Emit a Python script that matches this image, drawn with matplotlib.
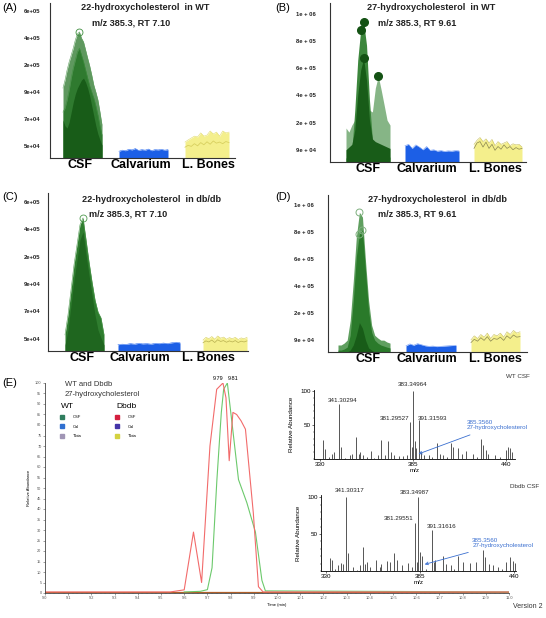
import matplotlib
matplotlib.use('Agg')  # no UI backend

import numpy as np
import matplotlib.pyplot as plt
from matplotlib.lines import Line2D

W, H = 546, 618
plt.rcParams['font.family'] = ['Liberation Sans', 'DejaVu Sans']

# ---------------- data : panels A-D ----------------
groups = ["CSF", "Calvarium", "L. Bones"]
ticks_22 = ["5e+04", "7e+04", "9e+04", "2e+05", "4e+05", "6e+05"]
ticks_27 = ["9e + 04", "2e + 05", "4e + 05", "6e + 05", "8e + 05", "1e + 06"]

# heights in tick units (lowest tick label = 1)
a_csf_outer = [3.14, 3.44, 3.81, 4.11, 4.36, 4.62, 4.92, 5.14, 5.22, 4.99,
               4.85, 4.55, 4.25, 3.96, 3.62, 3.25, 2.99, 2.70, 2.25, 1.77]
a_csf_mid = [2.25, 2.40, 2.70, 3.07, 3.51, 3.88, 4.18, 4.48, 4.62, 4.36,
             4.11, 3.81, 3.51, 3.22, 2.99, 2.77, 2.48, 2.14, 1.74, 1.40]
a_csf_dark = [1.96, 1.74, 1.66, 1.88, 2.25, 2.62, 2.92, 3.14, 3.29, 3.44,
              3.51, 3.36, 3.14, 2.85, 2.48, 2.11, 1.74, 1.44, 1.22, 1.03]
a_calv = [0.80, 0.84, 0.82, 0.87, 0.85, 0.90, 0.83, 0.86, 0.84, 0.88,
          0.82, 0.86, 0.85, 0.87, 0.84, 0.86]
a_lb_top = [1.14, 1.22, 1.29, 1.36, 1.33, 1.48, 1.36, 1.40, 1.55, 1.44,
            1.51, 1.36, 1.55, 1.48, 1.51]
a_lb_line = [0.95, 1.02, 0.98, 1.08, 1.00, 1.12, 1.04, 1.15, 1.06, 1.18,
             1.10, 1.14, 1.08, 1.16, 1.12]

b_csf_light = [1.80, 1.65, 1.91, 2.09, 2.46, 2.83, 2.83, 2.83, 2.46, 2.39,
               3.27, 3.71, 3.20, 2.65, 2.09, 1.91]
b_csf_mid = [0.70, 0.70, 0.99, 2.46, 4.30, 5.40, 5.70, 4.85, 2.83, 1.36,
             0.99, 0.92, 0.80, 0.77, 0.73, 0.73]
b_csf_dark = [1.00, 1.10, 1.20, 1.73, 3.01, 3.93, 4.37, 3.56, 2.09, 1.40,
              1.30, 1.25, 1.20, 1.15, 1.10, 1.05]
b_calv = [1.15, 1.20, 1.05, 1.18, 1.10, 1.00, 1.12, 0.98, 1.00, 0.95,
          0.97, 0.94, 0.96, 0.95, 0.97, 0.96]
b_lb_top = [1.20, 1.35, 1.45, 1.30, 1.40, 1.25, 1.38, 1.15, 1.30, 1.20,
            1.25, 1.30, 1.15, 1.22, 1.18, 1.20, 1.10]
b_lb_line = [1.05, 1.25, 1.30, 1.10, 1.28, 1.05, 1.20, 0.98, 1.12, 1.02,
             1.18, 1.05, 1.12, 1.00, 1.08, 1.02, 1.05]

c_csf_outer = [1.14, 1.87, 2.78, 3.70, 4.43, 5.17, 5.42, 4.62, 3.81, 3.08,
               2.42, 1.98, 1.76, 1.14]
c_csf_dark = [0.77, 1.32, 2.23, 3.15, 3.88, 4.62, 4.91, 4.07, 3.33, 2.60,
              1.87, 1.32, 1.03, 0.77]
c_calv = [0.78, 0.80, 0.79, 0.82, 0.80, 0.83, 0.81, 0.82, 0.80, 0.83,
          0.82, 0.84, 0.82, 0.85, 0.87, 0.85]
c_lb_top = [0.95, 1.05, 1.00, 1.08, 0.98, 1.10, 1.02, 1.06, 0.98, 1.04,
            1.00, 1.05, 0.97, 1.03, 1.00, 1.05]
c_lb_line = [0.85, 0.92, 0.88, 0.95, 0.86, 0.96, 0.90, 0.93, 0.87, 0.92,
             0.88, 0.93, 0.86, 0.91, 0.88, 0.92]

d_csf_outer = [0.81, 0.81, 0.88, 0.99, 1.72, 3.18, 4.82, 5.73, 5.55, 3.91,
               2.46, 1.54, 1.17, 1.07, 0.99, 0.99, 0.92, 0.88]
d_csf_mid = [0.62, 0.62, 0.66, 0.73, 1.17, 2.45, 4.09, 4.93, 5.08, 3.55,
             2.08, 1.28, 0.99, 0.88, 0.81, 0.77, 0.73, 0.70]
d_csf_dark = [0.55, 0.55, 0.55, 0.55, 0.62, 0.81, 1.17, 1.64, 1.43, 0.99,
              0.70, 0.62, 0.55, 0.55, 0.55, 0.55, 0.55, 0.55]
d_calv = [0.78, 0.85, 0.80, 0.86, 0.82, 0.78, 0.76, 0.77, 0.75, 0.76,
          0.77, 0.78, 0.79, 0.80]
d_lb_top = [1.00, 1.15, 1.05, 1.20, 1.10, 1.25, 1.05, 1.20, 1.15, 1.25,
            1.10, 1.30, 1.20, 1.35, 1.25, 1.30]
d_lb_line = [0.90, 1.02, 0.95, 1.08, 0.98, 1.12, 0.95, 1.05, 1.02, 1.10,
             0.98, 1.15, 1.05, 1.18, 1.10, 1.12]

# ---------------- data : panel E chromatogram ----------------
rt_dbdb = [9.0, 9.54, 9.60, 9.64, 9.675, 9.711, 9.74, 9.767, 9.78, 9.794,
           9.81, 9.826, 9.845, 9.864, 9.898, 9.92, 9.94, 11.0]
int_dbdb = [0.5, 0.5, 1.5, 29, 5, 70, 97, 100, 93, 63,
            86, 85, 82, 78, 38, 3, 0.5, 0.5]
rt_wt = [9.60, 9.67, 9.70, 9.72, 9.741, 9.76, 9.77, 9.786, 9.806, 9.834,
         9.87, 9.907, 9.935, 9.95, 11.0]
int_wt = [0.5, 0.8, 1.6, 12, 54, 86, 97, 100, 81, 54,
          43, 29, 6, 1, 0.5]
rt_flat = [9.0, 11.0]
int_flat = [0.5, 0.5]

# ---------------- data : mass spectra ----------------
mz_wt = [332.0, 332.9, 335.5, 337.5, 338.6, 341.4, 342.8, 345.0, 348.1, 349.3,
         351.6, 353.2, 354.0, 355.5, 358.1, 360.1, 362.0, 364.4, 366.3, 368.3,
         370.3, 371.8, 373.6, 376.8, 379.1, 381.5, 383.0, 384.2, 385.0, 386.2,
         387.0, 388.3, 389.5, 391.3, 394.4, 396.5, 399.4, 400.7, 402.7, 405.0,
         407.6, 408.6, 411.7, 413.9, 416.4, 420.4, 422.5, 424.9, 426.3, 427.8,
         429.2, 433.1, 436.0, 439.6, 441.0, 442.0, 443.2]
abund_wt = [28, 14, 3, 7, 10, 81, 18, 2, 6, 8,
            33, 8, 11, 6, 3, 12, 2, 6, 28, 6,
            26, 11, 6, 4, 4, 6, 55, 18, 100, 27,
            16, 57, 11, 6, 6, 3, 24, 8, 6, 3,
            23, 18, 16, 8, 12, 8, 3, 29, 21, 13,
            8, 6, 3, 13, 18, 16, 11]
mz_db = [332.7, 333.9, 335.5, 337.2, 338.7, 340.0, 341.7, 342.8, 345.9, 348.0,
         350.2, 351.7, 352.9, 354.1, 355.6, 359.5, 361.5, 362.4, 365.9, 367.3,
         369.6, 371.7, 374.7, 378.0, 380.5, 382.0, 383.2, 384.0, 385.0, 385.9,
         388.5, 391.7, 392.9, 394.0, 398.3, 400.3, 402.8, 405.0, 407.1, 410.0,
         413.9, 417.8, 421.7, 423.0, 424.9, 427.5, 430.6, 433.0, 435.2, 437.6,
         439.1, 440.3]
abund_db = [17, 15, 3, 8, 11, 9, 100, 24, 6, 2,
            8, 33, 10, 12, 5, 15, 5, 10, 14, 12,
            25, 15, 8, 11, 6, 65, 12, 100, 26, 20,
            3, 56, 12, 15, 21, 10, 8, 3, 20, 12,
            11, 12, 28, 19, 10, 8, 5, 3, 12, 19,
            13, 11]

# ---------------- helpers ----------------
fig = plt.figure(figsize=(W / 100, H / 100), dpi=100)


def px_axes(left, top, right, bottom):
    return fig.add_axes([left / W, 1 - bottom / H, (right - left) / W, (bottom - top) / H])


def ftext(x, y, s, **kw):
    fig.text(x / W, 1 - y / H, s, **kw)


BASE = 0.55
GREEN_L, GREEN_M, GREEN_D = '#4d8d4d', '#2a772a', '#185c18'
BLUE = '#1c5fe6'
YELLOW = '#f4ef86'


def band(ax, center, width, heights, color, alpha=1.0, edge=None, lw=0.4):
    x = np.linspace(center - width / 2, center + width / 2, len(heights))
    ax.fill_between(x, BASE, heights, color=color, alpha=alpha, lw=0)
    if edge:
        ax.plot(x, heights, color=edge, lw=lw)
    return x


def panel(rect, top, labels_x, ticks, pad):
    ax = px_axes(*rect)
    ax.set_xlim(rect[0], rect[2])
    ax.set_ylim(BASE, top)
    for s in ['top', 'right']:
        ax.spines[s].set_visible(False)
    for s in ['left', 'bottom']:
        ax.spines[s].set_color('#333333')
        ax.spines[s].set_linewidth(0.8)
    ax.set_yticks(range(1, 7))
    ax.set_yticklabels(ticks, fontsize=4.2, fontweight='bold', color='#222222')
    ax.set_xticks(labels_x)
    ax.set_xticklabels(groups, fontsize=9, fontweight='bold')
    ax.tick_params(axis='y', length=0, pad=pad)
    ax.tick_params(axis='x', length=0, pad=1)
    return ax


# ---------------- panel A ----------------
axA = panel((50, 3, 235, 158), 6.29, (80, 141, 208), ticks_22, 7)
xa = band(axA, 82.5, 39, a_csf_outer, GREEN_L, 0.9, '#5fa05f')
band(axA, 82.5, 39, a_csf_mid, GREEN_M, 0.9, '#3f8f3f')
band(axA, 82.5, 39, a_csf_dark, GREEN_D, 1.0)
i = int(np.argmax(a_csf_outer))
axA.plot(xa[i], a_csf_outer[i], 'o', mfc='none', mec='#3f8f3f', ms=5, mew=0.6)
band(axA, 143.5, 49, a_calv, BLUE, 1.0, '#2d6df0')
xl = band(axA, 207, 44, a_lb_top, YELLOW, 0.95, '#e2dc70')
axA.plot(xl, a_lb_line, color='#d8d060', lw=0.6)

# ---------------- panel B ----------------
axB = panel((330, 3, 526, 162), 6.4, (368, 427, 495), ticks_27, 10)
xb = band(axB, 368, 44, b_csf_light, '#86b586', 1.0)
band(axB, 368, 44, b_csf_mid, '#3c863c', 1.0)
band(axB, 368, 44, b_csf_dark, GREEN_D, 1.0)
axB.plot([xb[5], xb[6]], [b_csf_mid[5], b_csf_mid[6]], 'o', color='#145214', ms=5.5)
axB.plot(xb[6], b_csf_dark[6], 'o', color='#145214', ms=5.5)
axB.plot(xb[11], b_csf_light[11], 'o', color='#145214', ms=5.5)
band(axB, 432, 54, b_calv, BLUE, 1.0, '#6f9af5')
xl = band(axB, 498, 48, b_lb_top, YELLOW, 0.95, '#c9c060')
axB.plot(xl, b_lb_line, color='#8a8650', lw=0.5)

# ---------------- panel C ----------------
axC = panel((48, 193, 248, 351), 6.33, (82, 140, 208), ticks_22, 5.5)
xc = band(axC, 84.5, 39, c_csf_outer, '#2f7d2f', 1.0, '#4f9a4f')
band(axC, 84.5, 39, c_csf_dark, '#1f661f', 1.0)
i = int(np.argmax(c_csf_outer))
axC.plot(xc[i], c_csf_outer[i], 'o', mfc='none', mec='#4f9a4f', ms=5, mew=0.6)
band(axC, 149, 62, c_calv, BLUE, 1.0, '#2d6df0')
xl = band(axC, 225, 44, c_lb_top, YELLOW, 0.95, '#d8d060')
axC.plot(xl, c_lb_line, color='#b8b050', lw=0.5)

# ---------------- panel D ----------------
axD = panel((328, 195, 527, 352), 6.37, (368, 427, 495), ticks_27, 10)
xd = band(axD, 364, 52, d_csf_outer, '#5f9f5f', 1.0)
band(axD, 364, 52, d_csf_mid, '#2a7a2a', 1.0)
band(axD, 364, 52, d_csf_dark, GREEN_D, 1.0)
i = int(np.argmax(d_csf_outer))
axD.plot(xd[i], d_csf_outer[i], 'o', mfc='none', mec='#7fb07f', ms=5, mew=0.7)
j = int(np.argmax(d_csf_mid))
axD.plot([xd[j - 1], xd[j]], [d_csf_mid[j - 1], d_csf_mid[j]], 'o', mfc='none', mec='#7fb07f', ms=5, mew=0.7)
band(axD, 431, 50, d_calv, BLUE, 1.0, '#6f9af5')
xl = band(axD, 495.5, 49, d_lb_top, YELLOW, 0.95, '#c9c060')
axD.plot(xl, d_lb_line, color='#8a8650', lw=0.5)

# titles of A-D
tkw = dict(fontsize=6.6, fontweight='bold', ha='center', va='center', color='#222222')
ftext(145, 8, "22-hydroxycholesterol  in WT", **tkw)
ftext(131, 23, "m/z 385.3, RT 7.10", **tkw)
ftext(431, 7, "27-hydroxycholesterol  in WT", **tkw)
ftext(417, 23, "m/z 385.3, RT 9.61", **tkw)
ftext(151, 199, "22-hydroxycholesterol  in db/db", **tkw)
ftext(128, 214, "m/z 385.3, RT 7.10", **tkw)
ftext(437, 199, "27-hydroxycholesterol  in db/db", **tkw)
ftext(417, 214, "m/z 385.3, RT 9.61", **tkw)

pkw = dict(fontsize=8, ha='left', va='center')
ftext(2, 8, "(A)", **pkw)
ftext(275, 8, "(B)", **pkw)
ftext(2, 197, "(C)", **pkw)
ftext(275, 197, "(D)", **pkw)
ftext(2, 383, "(E)", **pkw)

# ---------------- panel E ----------------
axE = px_axes(45, 383, 509, 593)
axE.plot(rt_flat, int_flat, color='#b0602a', lw=0.9)
axE.plot(rt_wt, int_wt, color='#6cc96c', lw=0.8)
axE.plot(rt_dbdb, int_dbdb, color='#f26b6b', lw=0.8)
axE.set_xlim(9.0, 11.0)
axE.set_ylim(0, 100)
xt = np.round(np.arange(9.0, 11.001, 0.1), 1)
axE.set_xticks(xt)
axE.set_xticklabels([f"{t:.1f}" for t in xt])
axE.set_xticks(np.arange(9.0, 11.001, 0.02), minor=True)
axE.set_yticks(range(0, 101, 5))
axE.tick_params(labelsize=2.8, length=1.5, width=0.4, pad=1, colors='#555555')
axE.tick_params(which='minor', length=1, width=0.3, colors='#777777')
for s in ['top', 'right']:
    axE.spines[s].set_visible(False)
for s in ['left', 'bottom']:
    axE.spines[s].set_linewidth(0.6)
    axE.spines[s].set_color('#444444')
axE.set_ylabel("Relative Abundance", fontsize=3, labelpad=3)
axE.set_xlabel("Time (min)", fontsize=3, labelpad=1.5)
i_r = int(np.argmax(int_dbdb))
i_g = int(np.argmax(int_wt))
axE.text(rt_dbdb[i_r], 101, "9.79", fontsize=4, ha='right', va='bottom')
axE.text(rt_wt[i_g], 101, "9.81", fontsize=4, ha='left', va='bottom')

ftext(65, 384, "WT and Dbdb", fontsize=5.5, ha='left', va='center', color='#333333')
ftext(65, 395, "27-hydroxycholesterol", fontsize=5.5, ha='left', va='center', color='#333333')

wt_cols = ['#2f7d5e', '#2f6fd0', '#a095b5']
db_cols = ['#d4203f', '#4434a8', '#d4d240']
leg_labels = ['CSF', 'Cal', 'Tibia']
lkw = dict(loc='upper left', bbox_transform=fig.transFigure, frameon=False, fontsize=3,
           title_fontsize=6, handlelength=0.6, handletextpad=2.2, labelspacing=1.3,
           borderpad=0, borderaxespad=0, alignment='left')
h_wt = [Line2D([], [], marker='s', ls='', color=c, ms=2.2) for c in wt_cols]
h_db = [Line2D([], [], marker='s', ls='', color=c, ms=2.2) for c in db_cols]
leg1 = axE.legend(h_wt, leg_labels, title='WT', bbox_to_anchor=(61 / W, 1 - 403 / H), **lkw)
axE.add_artist(leg1)
axE.legend(h_db, leg_labels, title='Dbdb', bbox_to_anchor=(116 / W, 1 - 403 / H), **lkw)

# ---------------- mass spectra ----------------
BLUE_T = '#3a6fd0'


def spectrum(rect, xlim, ylim, mz, ab):
    ax = px_axes(*rect)
    ax.vlines(mz, 0, ab, color='#555555', lw=0.7)
    ax.set_xlim(*xlim)
    ax.set_ylim(*ylim)
    ax.set_xticks([330, 385, 440])
    ax.set_xticks(np.arange(330, 445, 5), minor=True)
    ax.set_yticks([50, 100])
    ax.set_yticks(np.arange(0, 101, 10), minor=True)
    ax.tick_params(labelsize=4.5, length=1.5, width=0.4, pad=1)
    ax.tick_params(which='minor', length=1, width=0.3)
    for s in ['top', 'right']:
        ax.spines[s].set_visible(False)
    for s in ['left', 'bottom']:
        ax.spines[s].set_linewidth(0.6)
    ax.set_xlabel("m/z", fontsize=4.5, labelpad=0.5)
    ax.set_ylabel("Relative Abundance", fontsize=4.5, labelpad=4)
    ax.patch.set_alpha(0)
    return ax


axW = spectrum((314, 390, 515, 459), (326.7, 445.1), (0, 101.5), mz_wt, abund_wt)
skw = dict(fontsize=4.5, ha='center', va='center', clip_on=False, color='#222222')
axW.text(385.0, 109, "383.34964", **skw)
axW.text(343.8, 86, "341.30294", **skw)
axW.text(374.2, 59, "381.29527", **skw)
axW.text(396.8, 60, "391.31593", **skw)
axW.annotate("385.3560\n27-hydroxycholesterol", xy=(388.2, 7.4), xytext=(416.4, 50),
             fontsize=4.5, color=BLUE_T, ha='left', va='center', linespacing=1.1,
             arrowprops=dict(arrowstyle='->', color=BLUE_T, lw=0.6, shrinkA=4, shrinkB=0,
                             mutation_scale=5))

axDb = spectrum((321, 495, 516, 571), (327.3, 440.9), (0, 103), mz_db, abund_db)
axDb.text(344.0, 108.6, "341.30317", **skw)
axDb.text(381.8, 106, "383.34987", **skw)
axDb.text(372.7, 71, "381.29551", **skw)
axDb.text(397.4, 60, "391.31616", **skw)
axDb.annotate("385.3560\n27-hydroxycholesterol", xy=(387.7, 9), xytext=(415.4, 38),
              fontsize=4.5, color=BLUE_T, ha='left', va='center', linespacing=1.1,
              arrowprops=dict(arrowstyle='->', color=BLUE_T, lw=0.6, shrinkA=4, shrinkB=0,
                              mutation_scale=5))

ftext(518, 377, "WT CSF", fontsize=4.5, ha='center', va='center', color='#333333')
ftext(525, 487, "Dbdb CSF", fontsize=4.5, ha='center', va='center', color='#333333')
ftext(528, 606, "Version 2", fontsize=5, ha='center', va='center', color='#333333')

fig.savefig("out.png", dpi=100)
